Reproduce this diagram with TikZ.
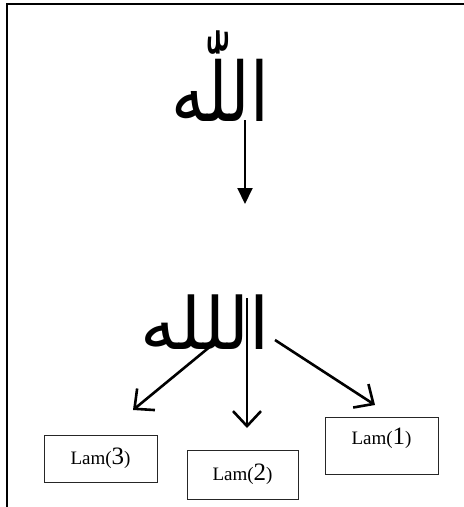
\documentclass[tikz,border=0pt]{standalone}
\usepackage{fontspec}
\setmainfont{Liberation Serif}
\newfontfamily\arabicfont[Script=Arabic]{DejaVu Sans}
\TeXXeTstate=1
\usetikzlibrary{arrows.meta}
\newcommand{\lamlabel}[1]{{\fontsize{19}{20}\selectfont Lam}{\fontsize{19}{20}\selectfont(}{\fontsize{25}{26}\selectfont #1}{\fontsize{19}{20}\selectfont)}}
\begin{document}
\begin{tikzpicture}[x=1pt,y=-1pt,
  frame/.style={line width=2pt, black},
  arabic/.style={inner sep=0pt, font=\arabicfont},
  solidarrow/.style={line width=2pt, -{Triangle[length=16pt,width=15pt]}},
  openarrow/.style={line width=2.6pt, -{Straight Barb[length=15pt,width=28pt,line width=2.6pt]}},
  lambox/.style={draw=black!85, line width=0.9pt, inner sep=0pt}]
\useasboundingbox (0,0) rectangle (464,507);
\draw[frame] (464,4) -- (7,4) -- (7,507);
% top word
\node[arabic] (allah) at (220,76) {\scalebox{0.82}[1]{\fontsize{82}{90}\selectfont\beginR اللّٰه\endR}};
\coordinate (a1s) at (245,120);
\coordinate (a1e) at (245,204);
\draw[solidarrow] (a1s) -- (a1e);
% lower word
\node[arabic] (word) at (205,322) {\fontsize{72}{80}\selectfont\beginR اللله\endR};
% boxes
\node[lambox, minimum width=113pt, minimum height=47pt] (lam3) at (100.5,458.5) {\lamlabel{3}};
\node[lambox, minimum width=111pt, minimum height=49pt] (lam2) at (242.5,474.5) {\lamlabel{2}};
\node[lambox, minimum width=113pt, minimum height=57pt, text depth=18pt] (lam1) at (381.5,445.5) {\lamlabel{1}};
% arrows
\coordinate (s3) at (212,345);
\coordinate (e3) at (133,410);
\coordinate (s2) at (247,298);
\coordinate (e2) at (247,428);
\coordinate (s1) at (275,340);
\coordinate (e1) at (375,405);
\draw[openarrow] (s3) -- (e3);
\draw[openarrow] (s2) -- (e2);
\draw[openarrow] (s1) -- (e1);
\end{tikzpicture}
\end{document}
